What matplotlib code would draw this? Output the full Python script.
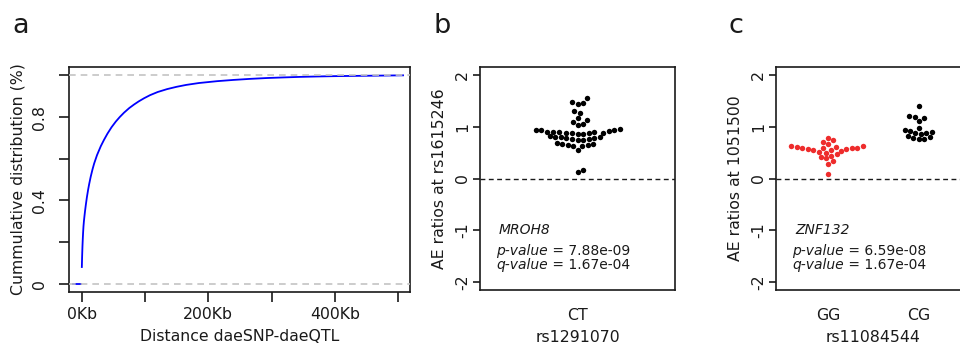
import numpy as np
import matplotlib
matplotlib.use("Agg")
import matplotlib.pyplot as plt

# panel a: cumulative distribution of daeSNP-daeQTL distance (Kb)
dist_kb = [0, 0.5, 1, 1.5, 2, 2.6, 3.3, 4, 5, 6.3, 8, 10, 11.6, 14, 17, 19.5,
           24, 30, 35, 40.5, 47, 53.7, 60, 66.8, 75, 82.6, 90, 98.4, 108,
           120, 135, 150, 165, 185, 214, 240, 266, 292, 319, 345, 372, 398,
           424, 466, 508]
cdf = [0.08, 0.135, 0.18, 0.215, 0.245, 0.275, 0.30, 0.32, 0.347, 0.378,
       0.415, 0.452, 0.478, 0.513, 0.55, 0.577, 0.617, 0.66, 0.69, 0.72,
       0.751, 0.778, 0.80, 0.821, 0.843, 0.86, 0.875, 0.89, 0.905, 0.92,
       0.934, 0.945, 0.954, 0.963, 0.972, 0.978, 0.983, 0.987, 0.990,
       0.9925, 0.9945, 0.996, 0.997, 0.9985, 1.0]
zero_seg_kb = [-14, -2]

# panel b: AE ratios at rs1615246, genotype CT of rs1291070
b_groups = ["CT"]
b_ct = [0.13, 0.17, 0.56,
        0.62, 0.63, 0.64, 0.65, 0.66, 0.67, 0.68,
        0.74, 0.75, 0.76, 0.77, 0.78, 0.79, 0.80, 0.80, 0.81, 0.82,
        0.86, 0.87, 0.88, 0.88, 0.89, 0.89, 0.90, 0.90, 0.91, 0.91,
        0.92, 0.93, 0.93, 0.94, 0.95,
        1.04, 1.06, 1.10, 1.13, 1.17, 1.27, 1.30,
        1.45, 1.47, 1.49, 1.55]

# panel c: AE ratios at 1051500, genotypes of rs11084544
c_groups = ["GG", "CG"]
c_gg = [0.08, 0.29, 0.34, 0.39, 0.42, 0.44, 0.47, 0.50, 0.52,
        0.54, 0.55, 0.56, 0.57, 0.58, 0.59, 0.59, 0.60, 0.60, 0.61, 0.61,
        0.62, 0.62, 0.67, 0.70, 0.74, 0.79]
c_cg = [0.76, 0.77, 0.78, 0.80, 0.82, 0.86, 0.88, 0.89, 0.90, 0.92, 0.93,
        0.98, 1.12, 1.17, 1.20, 1.22, 1.41]

ink = "#1a1a1a"
plt.rcParams['font.family'] = ['DejaVu Sans']
plt.rcParams['text.color'] = ink
plt.rcParams['axes.labelcolor'] = ink
plt.rcParams['xtick.color'] = ink
plt.rcParams['ytick.color'] = ink

W, H = 960, 345
fig = plt.figure(figsize=(W / 100, H / 100), dpi=100)


def box_axes(px_left, px_top, px_w, px_h):
    ax = fig.add_axes([px_left / W, 1 - (px_top + px_h) / H, px_w / W, px_h / H])
    for s in ax.spines.values():
        s.set_linewidth(1.2)
        s.set_color(ink)
    return ax


def swarm(values, ax, center, d_px=5.6):
    """beeswarm-like placement (ascending priority), returns x positions"""
    vals = np.asarray(values, dtype=float)
    bb = ax.get_position()
    x0, x1 = ax.get_xlim()
    y0, y1 = ax.get_ylim()
    xppu = bb.width * W / (x1 - x0)
    yppu = bb.height * H / (y1 - y0)
    ys = vals * yppu
    px, py = [], []
    xs = np.zeros(len(vals))
    for i in np.argsort(vals, kind="stable"):
        y = ys[i]
        close = [(a, b) for a, b in zip(px, py) if abs(b - y) < d_px]
        cand = [0.0]
        cand += [a + np.sqrt(d_px ** 2 - (b - y) ** 2) for a, b in close]
        cand += [a - np.sqrt(d_px ** 2 - (b - y) ** 2) for a, b in close]
        ok = [c for c in cand
              if all((c - a) ** 2 + (b - y) ** 2 >= d_px ** 2 - 1e-6 for a, b in close)]
        best = min(ok, key=abs)
        px.append(best)
        py.append(y)
        xs[i] = best
    return center + xs / xppu


# ---- panel a ----
ax = box_axes(69, 67, 341, 225)
ax.set_xlim(-20.3, 519)
ax.set_ylim(-0.04, 1.04)
ax.plot(dist_kb, cdf, color="#0000ff", lw=1.3, zorder=2)
ax.plot(zero_seg_kb, [0, 0], color="#0000ff", lw=1.3, zorder=2)
for yv in (0, 1):
    ax.axhline(yv, color="#c4c4c4", lw=1.2, dashes=(4, 3), zorder=3)
ax.set_xticks([0, 100, 200, 300, 400, 500])
ax.set_xticklabels(["0Kb", "", "200Kb", "", "400Kb", ""], fontsize=11.3)
ax.set_yticks([0, 0.2, 0.4, 0.6, 0.8, 1.0])
ax.set_yticklabels(["0", "", "0.4", "", "0.8", ""], fontsize=11.3,
                   rotation=90, va="center")
ax.tick_params(axis="x", length=7, width=1.2, pad=4)
ax.tick_params(axis="y", length=7, width=1.2, pad=8.5)
ax.set_xlabel("Distance daeSNP-daeQTL", fontsize=11.3)
ax.xaxis.set_label_coords(0.5, -0.165)
ax.set_ylabel("Cummulative distribution (%)", fontsize=11.3)
ax.yaxis.set_label_coords(-0.129, 0.5)


def ae_panel(px_left, ngroups, groups, data, colors, ylab, xlab, gene, pval, qval):
    ax = box_axes(px_left, 67, 195, 223)
    pad = 0.04 * ngroups
    ax.set_xlim(0.5 - pad, ngroups + 0.5 + pad)
    ax.set_ylim(-2.16, 2.16)
    ax.axhline(0, color=ink, lw=1.0, dashes=(3.5, 2.5), zorder=1)
    for k, (vals, col) in enumerate(zip(data, colors)):
        xs = swarm(vals, ax, k + 1)
        ax.plot(xs, vals, "o", ms=3.9, color=col, mec="none", zorder=3)
    ax.set_xticks(range(1, ngroups + 1))
    ax.set_xticklabels(groups, fontsize=11.3)
    ax.tick_params(axis="x", length=0, pad=13)
    ax.set_yticks([-2, -1, 0, 1, 2])
    ax.set_yticklabels(["-2", "-1", "0", "1", "2"], fontsize=11.3,
                       rotation=90, va="center")
    ax.tick_params(axis="y", length=5, width=1.2, pad=2)
    ax.set_ylabel(ylab, fontsize=11.3)
    ax.yaxis.set_label_coords(-0.169, 0.5)
    ax.set_xlabel(xlab, fontsize=11.3)
    ax.xaxis.set_label_coords(0.5, -0.18)
    ax.text(0.097, 0.269, gene, transform=ax.transAxes, fontsize=10,
            style="italic", va="center")
    for yy, name, val in ((0.175, "p-value", pval), (0.112, "q-value", qval)):
        t = ax.text(0.082, yy, name, transform=ax.transAxes, fontsize=10,
                    style="italic", va="center")
        ax.annotate(" = " + val, xy=(1, 0), xycoords=t, fontsize=10,
                    va="bottom", ha="left")
    return ax


ae_panel(480, 1, b_groups, [b_ct], ["black"], "AE ratios at rs1615246",
         "rs1291070", "MROH8", "7.88e-09", "1.67e-04")
ae_panel(776, 2, c_groups, [c_gg, c_cg], ["#ee2c2c", "black"],
         "AE ratios at 1051500", "rs11084544", "ZNF132", "6.59e-08", "1.67e-04")

for x, lab in ((12, "a"), (434, "b"), (728, "c")):
    fig.text(x / W, 1 - 33 / H, lab, fontsize=19.5, va="baseline", ha="left")

fig.savefig("out.png", dpi=100)
